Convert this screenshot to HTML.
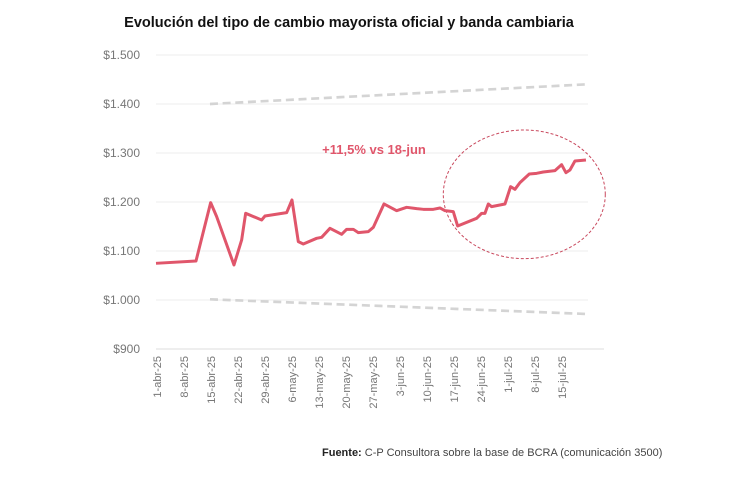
<!DOCTYPE html>
<html><head><meta charset="utf-8"><style>
body{margin:0;background:#fff;width:732px;height:472px;overflow:hidden;font-family:"Liberation Sans",sans-serif}
</style></head><body>
<svg width="732" height="472" viewBox="0 0 732 472" xmlns="http://www.w3.org/2000/svg" font-family="Liberation Sans, sans-serif">
<text x="349" y="27" text-anchor="middle" font-size="14.5" font-weight="bold" fill="#111">Evolución del tipo de cambio mayorista oficial y banda cambiaria</text>
<g stroke="#ececec" stroke-width="1">
<line x1="156" y1="55" x2="588" y2="55"/><line x1="156" y1="104" x2="588" y2="104"/>
<line x1="156" y1="153" x2="588" y2="153"/><line x1="156" y1="202" x2="588" y2="202"/>
<line x1="156" y1="251" x2="588" y2="251"/><line x1="156" y1="300" x2="588" y2="300"/>
<line x1="156" y1="349" x2="604" y2="349" stroke="#ddd"/>
</g>
<g font-size="12" fill="#777" text-anchor="end">
<text x="140" y="59">$1.500</text><text x="140" y="108">$1.400</text><text x="140" y="157">$1.300</text>
<text x="140" y="206">$1.200</text><text x="140" y="255">$1.100</text><text x="140" y="304">$1.000</text><text x="140" y="353">$900</text>
</g>
<g transform="translate(90,40) scale(0.3333)">
<g stroke="#d4d4d4" stroke-width="8" stroke-dasharray="24,14" fill="none">
<line x1="360" y1="192" x2="1490" y2="133"/><line x1="360" y1="778" x2="1490" y2="822"/>
</g>
<ellipse cx="1303" cy="463" rx="243" ry="193" fill="none" stroke="#c9495e" stroke-width="3" stroke-dasharray="9,6"/>
<polyline fill="none" stroke="#e0566b" stroke-width="9" stroke-linejoin="round" points="198,670 318,663 362,488 380,530 432,675 455,600 467,520 515,540 525,528 590,518 606,480 625,605 640,612 680,595 695,592 720,565 755,583 770,568 790,568 805,578 835,575 850,562 882,492 920,512 950,502 980,506 1000,508 1030,508 1050,504 1065,512 1090,515 1103,558 1160,535 1175,520 1185,520 1195,492 1205,500 1245,492 1262,440 1275,448 1290,428 1318,402 1340,400 1360,396 1395,392 1415,374 1428,398 1440,390 1455,363 1488,360"/>
</g>
<text x="374" y="154" text-anchor="middle" font-size="13" font-weight="bold" fill="#e0566b">+11,5% vs 18-jun</text>
<g font-size="11" fill="#777" text-anchor="end">
<text transform="translate(161,356) rotate(-90)">1-abr-25</text>
<text transform="translate(188,356) rotate(-90)">8-abr-25</text>
<text transform="translate(215,356) rotate(-90)">15-abr-25</text>
<text transform="translate(242,356) rotate(-90)">22-abr-25</text>
<text transform="translate(269,356) rotate(-90)">29-abr-25</text>
<text transform="translate(296,356) rotate(-90)">6-may-25</text>
<text transform="translate(323,356) rotate(-90)">13-may-25</text>
<text transform="translate(350,356) rotate(-90)">20-may-25</text>
<text transform="translate(377,356) rotate(-90)">27-may-25</text>
<text transform="translate(404,356) rotate(-90)">3-jun-25</text>
<text transform="translate(431,356) rotate(-90)">10-jun-25</text>
<text transform="translate(458,356) rotate(-90)">17-jun-25</text>
<text transform="translate(485,356) rotate(-90)">24-jun-25</text>
<text transform="translate(512,356) rotate(-90)">1-jul-25</text>
<text transform="translate(539,356) rotate(-90)">8-jul-25</text>
<text transform="translate(566,356) rotate(-90)">15-jul-25</text>
</g>
<text x="322" y="456" font-size="11" fill="#444"><tspan font-weight="bold" fill="#222">Fuente:</tspan> C-P Consultora sobre la base de BCRA (comunicación 3500)</text>
</svg>
</body></html>
